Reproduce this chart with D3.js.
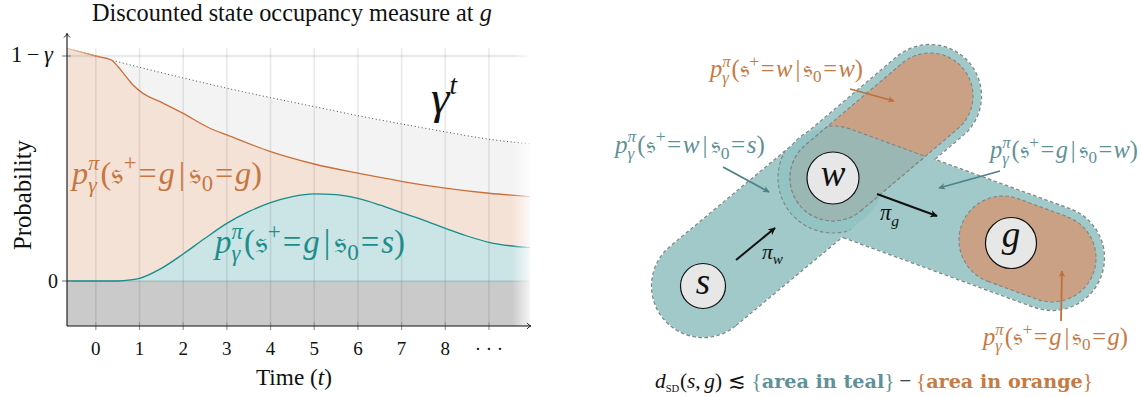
<!DOCTYPE html>
<html><head><meta charset="utf-8">
<script src="https://cdn.jsdelivr.net/npm/d3@7"></script>
<style>body{margin:0;background:#fff}svg{display:block}</style>
</head><body>
<svg id="fig" width="1141" height="397"></svg>
<script>
// ---------- left panel: occupancy curves ----------
const timeTicks = [0, 1, 2, 3, 4, 5, 6, 7, 8, 9];
const timeTickLabels = ["0", "1", "2", "3", "4", "5", "6", "7", "8", "\u00b7 \u00b7 \u00b7"];
const gammaT = [-0.66, 0, 1, 2, 3, 4, 5, 6, 7, 8, 9, 9.94];
const gammaV = [1.034, 1.0, 0.95, 0.9025, 0.857, 0.815, 0.775, 0.735, 0.698, 0.663, 0.63, 0.61];
const selfT = [-0.66, 0, 0.36, 0.51, 0.66, 0.85, 1.08, 1.47, 2, 2.6, 3, 4, 5, 6, 7, 8, 9, 9.94];
const selfV = [1.034, 1.0, 0.982, 0.952, 0.916, 0.871, 0.834, 0.797, 0.745, 0.68, 0.649, 0.575, 0.52, 0.479, 0.443, 0.413, 0.39, 0.375];
const reachT = [-0.66, 0.5, 0.8, 1, 1.5, 2, 2.5, 3, 3.5, 4, 4.5, 5, 5.5, 6, 6.5, 7, 7.5, 8, 8.5, 9, 9.94];
const reachV = [0, 0, 0.005, 0.012, 0.056, 0.12, 0.19, 0.256, 0.308, 0.348, 0.375, 0.387, 0.384, 0.367, 0.338, 0.304, 0.271, 0.234, 0.2, 0.172, 0.148];
const yTickValues = [1, 0];

// ---------- right panel: diagram layout ----------
const nodes = [
  { id: "s", x: 703, y: 286, r: 22.5, lift: 8 },
  { id: "w", x: 833, y: 178, r: 26, lift: 8 },
  { id: "g", x: 1011, y: 243, r: 25.5, lift: 4 }
];
const wTop = [930, 96];
const gEnd = [1052, 258];
const gStart = [1003, 240];

const COL = {
  orangeLine: "#c8703a", orangeFill: "#f5e2d7", orangeText: "#c8763f",
  tealLine: "#188b8b", tealFill: "#cbe4e5", tealText: "#1b8e8c",
  greyFill: "#f3f3f3", below: "#cacaca",
  dTeal: "#a2c9c9", dTealDark: "#94c3c4", dOrange: "#caa184", dGrey: "#9ab7b3",
  annTeal: "#5f9198", annTealArrow: "#4f8188", annOrange: "#c77a43", annOrangeArrow: "#c0703a"
};
const FAMILY = "'Liberation Serif', serif";
const BOLD = "'DejaVu Serif', serif";

const svg = d3.select("#fig").attr("font-family", FAMILY);
const defs = svg.append("defs");

// Lay out a run of text pieces (with sub/superscripts) and scale it to a width.
function mathText(parent, pieces, o) {
  const g = parent.append("g");
  let cx = 0;
  const put = (p, atX) => {
    const t = g.append("text")
      .attr("x", atX).attr("y", -(p.dy || 0) * o.size)
      .attr("font-size", o.size * (p.s || 1) * (p.b ? 0.9 : 1))
      .attr("font-style", p.it ? "italic" : "normal")
      .attr("font-weight", p.b ? "bold" : "normal")
      .attr("fill", p.c || o.color || "#111")
      .attr("font-family", p.f || (p.b ? BOLD : FAMILY))
      .text(p.t);
    return t.node().getComputedTextLength();
  };
  for (const p of pieces) {
    cx += (p.pl || 0) * o.size;
    if (p.stack) cx += Math.max(...p.stack.map(q => put(q, cx)));
    else cx += put(p, cx);
    cx += (p.pr || 0) * o.size;
  }
  const k = o.width ? o.width / cx : 1;
  const off = o.anchor === "middle" ? -cx * k / 2 : o.anchor === "end" ? -cx * k : 0;
  g.attr("transform", `translate(${o.x},${o.y}) rotate(${o.rotate || 0}) translate(${off},0) scale(${k})`);
  return g;
}

function occupancy(target, source) {
  return [
    { t: "p", it: true },
    { stack: [{ t: "π", s: 0.68, dy: 0.42, it: true }, { t: "γ", s: 0.68, dy: -0.25, it: true }], pr: 0.04 },
    { t: "(" },
    { t: "𝔰" },
    { t: "+", s: 0.7, dy: 0.42 },
    { t: "=", pl: 0.06, pr: 0.06 },
    { t: target, it: true },
    { t: "|", pl: 0.12, pr: 0.12 },
    { t: "𝔰" },
    { t: "0", s: 0.7, dy: -0.22 },
    { t: "=", pl: 0.06, pr: 0.06 },
    { t: source, it: true },
    { t: ")" }
  ];
}

// ================= LEFT PANEL =================
const xS = d3.scaleLinear().domain([-0.66, 9.94]).range([67, 530]);
const yS = d3.scaleLinear().domain([-0.2, 1]).range([326, 56]);
const L = svg.append("g");

const pts = (T, V) => T.map((t, i) => [t, V[i]]);
const area = d3.area().x(d => xS(d[0])).y0(yS(0)).y1(d => yS(d[1])).curve(d3.curveMonotoneX);
const line = d3.line().x(d => xS(d[0])).y(d => yS(d[1])).curve(d3.curveMonotoneX);

L.append("path").attr("d", area(pts(gammaT, gammaV))).attr("fill", COL.greyFill);
L.append("path").attr("d", area(pts(selfT, selfV))).attr("fill", COL.orangeFill);
L.append("path").attr("d", area(pts(reachT, reachV))).attr("fill", COL.tealFill);
L.append("rect").attr("x", xS(-0.66)).attr("y", yS(0)).attr("width", xS(9.94) - xS(-0.66))
  .attr("height", yS(-0.2) - yS(0)).attr("fill", COL.below);

// grid
L.selectAll("line.vg").data(timeTicks).join("line").attr("class", "vg")
  .attr("x1", d => xS(d)).attr("x2", d => xS(d)).attr("y1", yS(1.035)).attr("y2", yS(-0.2))
  .attr("stroke", "rgba(0,0,0,0.085)").attr("stroke-width", 1.6);
L.selectAll("line.hg").data(yTickValues).join("line").attr("class", "hg")
  .attr("x1", xS(-0.66)).attr("x2", xS(9.94)).attr("y1", d => yS(d)).attr("y2", d => yS(d))
  .attr("stroke", d => d === 0 ? "rgba(40,100,100,0.25)" : "rgba(0,0,0,0.08)")
  .attr("stroke-width", d => d === 0 ? 1.2 : 2.6);

// gamma^t reference
L.append("path").attr("d", line(pts(gammaT, gammaV))).attr("fill", "none")
  .attr("stroke", "#333").attr("stroke-width", 0.9).attr("stroke-dasharray", "1 2.6");

const lg = defs.append("linearGradient").attr("id", "selfFade").attr("gradientUnits", "userSpaceOnUse")
  .attr("x1", xS(-0.66)).attr("x2", xS(0.2)).attr("y1", 0).attr("y2", 0);
lg.append("stop").attr("offset", 0).attr("stop-color", "#efcdb6");
lg.append("stop").attr("offset", 1).attr("stop-color", COL.orangeLine);
L.append("path").attr("d", line(pts(selfT, selfV))).attr("fill", "none")
  .attr("stroke", "url(#selfFade)").attr("stroke-width", 1.3);
L.append("path").attr("d", line(pts(reachT, reachV))).attr("fill", "none")
  .attr("stroke", COL.tealLine).attr("stroke-width", 1.3);

// right-edge fade to white
const rf = defs.append("linearGradient").attr("id", "edgeFade");
rf.append("stop").attr("offset", 0).attr("stop-color", "#fff").attr("stop-opacity", 0);
rf.append("stop").attr("offset", 1).attr("stop-color", "#fff").attr("stop-opacity", 1);
L.append("rect").attr("x", 512).attr("y", 30).attr("width", 22).attr("height", yS(-0.2) - 30 - 0.5)
  .attr("fill", "url(#edgeFade)");

// tick marks
L.selectAll("line.xt").data(timeTicks).join("line").attr("class", "xt")
  .attr("x1", d => xS(d)).attr("x2", d => xS(d)).attr("y1", yS(-0.2) - 4).attr("y2", yS(-0.2) + 4)
  .attr("stroke", "#999").attr("stroke-width", 1.2);
L.selectAll("line.yt").data(yTickValues).join("line").attr("class", "yt")
  .attr("x1", xS(-0.66) - 5).attr("x2", xS(-0.66) + 4).attr("y1", d => yS(d)).attr("y2", d => yS(d))
  .attr("stroke", "#888").attr("stroke-width", 1.2);

// axes with arrow tips
const ax0 = xS(-0.66), ay0 = yS(-0.2);
L.append("path").attr("d", `M${ax0},${ay0}V${yS(1.1)}M${ax0},${ay0}H${xS(9.96)}`)
  .attr("stroke", "#111").attr("stroke-width", 1.1).attr("fill", "none");
L.append("path").attr("d", `M${ax0 - 3},${yS(1.1) + 4}Q${ax0 - 0.5},${yS(1.1) + 1.5} ${ax0},${yS(1.1)}Q${ax0 + 0.5},${yS(1.1) + 1.5} ${ax0 + 3},${yS(1.1) + 4}`)
  .attr("stroke", "#111").attr("stroke-width", 0.9).attr("fill", "none");
L.append("path").attr("d", `M${xS(9.96) - 4},${ay0 - 3}Q${xS(9.96) - 1.5},${ay0 - 0.5} ${xS(9.96)},${ay0}Q${xS(9.96) - 1.5},${ay0 + 0.5} ${xS(9.96) - 4},${ay0 + 3}`)
  .attr("stroke", "#111").attr("stroke-width", 0.9).attr("fill", "none");

// tick labels
L.selectAll("text.xl").data(timeTicks).join("text").attr("class", "xl")
  .attr("x", d => xS(d)).attr("y", 355).attr("text-anchor", "middle")
  .attr("font-size", 19).attr("fill", "#111").text((d, i) => timeTickLabels[i]);
mathText(L, [{ t: "1" }, { t: "−", pl: 0.2, pr: 0.2 }, { t: "γ", it: true }],
  { x: 53, y: yS(1) + 6, size: 20, width: 42, anchor: "end" });
mathText(L, [{ t: "0" }], { x: 58, y: yS(0) + 7, size: 20, anchor: "end" });

// titles
mathText(L, [{ t: "Discounted state occupancy measure at", pr: 0.25 }, { t: "g", it: true }],
  { x: 92, y: 21, size: 21, width: 400 });
mathText(L, [{ t: "Time", pr: 0.25 }, { t: "(" }, { t: "t", it: true }, { t: ")" }],
  { x: 256, y: 385, size: 21, width: 76 });
mathText(L, [{ t: "Probability" }], { x: 31, y: 195, size: 21, width: 110, anchor: "middle", rotate: -90 });

// curve labels
mathText(L, [{ t: "γ", it: true }, { t: "t", it: true, s: 0.58, dy: 0.4 }],
  { x: 431, y: 113, size: 30, width: 26 });
mathText(L, occupancy("g", "g"), { x: 72, y: 184, size: 28, width: 190, color: COL.orangeText });
mathText(L, occupancy("g", "s"), { x: 215, y: 253, size: 28, width: 190, color: COL.tealText });

// ================= RIGHT PANEL =================
const R = svg.append("g");
const N = Object.fromEntries(nodes.map(n => [n.id, n]));
const P = id => [N[id].x, N[id].y];

function capsule(p1, p2, r) {
  const dx = p2[0] - p1[0], dy = p2[1] - p1[1], len = Math.hypot(dx, dy);
  const ux = dx / len, uy = dy / len, nx = -uy, ny = ux;
  const pt = (p, a, b) => `${p[0] + a * ux * r + b * nx * r},${p[1] + a * uy * r + b * ny * r}`;
  return `M${pt(p1, 0, 1)}L${pt(p2, 0, 1)}` +
    `A${r},${r} 0 0 0 ${pt(p2, 1, 0)}A${r},${r} 0 0 0 ${pt(p2, 0, -1)}` +
    `L${pt(p1, 0, -1)}A${r},${r} 0 0 0 ${pt(p1, -1, 0)}A${r},${r} 0 0 0 ${pt(p1, 0, 1)}Z`;
}

const shapes = {
  sw: capsule(P("s"), P("w"), 51),
  wwOuter: capsule(P("w"), wTop, 51),
  wg: capsule(P("w"), gEnd, 52),
  wwOrange: capsule(P("w"), wTop, 43),
  ggOrange: capsule(gStart, gEnd, 44)
};
for (const k of ["sw", "wg", "wwOrange"]) {
  defs.append("clipPath").attr("id", "clip-" + k).append("path").attr("d", shapes[k]);
}
const dash = sel => sel.attr("fill", "none").attr("stroke", "#7d8585").attr("stroke-width", 1.1).attr("stroke-dasharray", "3.6 2.4");

// union of teal regions: outlines underneath, fills over them
for (const k of ["sw", "wwOuter", "wg"]) dash(R.append("path").attr("d", shapes[k])).attr("stroke-width", 2.3);
for (const k of ["sw", "wwOuter", "wg"]) R.append("path").attr("d", shapes[k]).attr("fill", COL.dTeal);

// ring where the band s -> w ends around w
R.append("circle").attr("cx", N.w.x).attr("cy", N.w.y).attr("r", 55)
  .attr("fill", COL.dTealDark).attr("clip-path", "url(#clip-sw)");
dash(R.append("circle").attr("cx", N.w.x).attr("cy", N.w.y).attr("r", 55)).attr("clip-path", "url(#clip-sw)");

// self-occupancy regions
for (const k of ["wwOrange", "ggOrange"]) {
  R.append("path").attr("d", shapes[k]).attr("fill", COL.dOrange);
  dash(R.append("path").attr("d", shapes[k]));
}
// band w -> g over the self-occupancy of w
R.append("path").attr("d", shapes.wg).attr("fill", COL.dGrey).attr("clip-path", "url(#clip-wwOrange)");
dash(R.append("path").attr("d", shapes.wg)).attr("clip-path", "url(#clip-wwOrange)");
dash(R.append("path").attr("d", shapes.wwOrange)).attr("clip-path", "url(#clip-wg)");

// arrow heads
function marker(id, color) {
  defs.append("marker").attr("id", id).attr("viewBox", "0 0 10 10").attr("refX", 8).attr("refY", 5)
    .attr("markerWidth", 4.2).attr("markerHeight", 4.2).attr("orient", "auto-start-reverse")
    .attr("markerUnits", "strokeWidth")
    .append("path").attr("d", "M0,0.6 L9,5 L0,9.4 L2.4,5 Z").attr("fill", color);
}
marker("mk-black", "#111");
marker("mk-teal", COL.annTealArrow);
marker("mk-orange", COL.annOrangeArrow);
const arrow = (a, b, color, mk, w) => R.append("line")
  .attr("x1", a[0]).attr("y1", a[1]).attr("x2", b[0]).attr("y2", b[1])
  .attr("stroke", color).attr("stroke-width", w).attr("marker-end", `url(#${mk})`);

// policy arrows
arrow([736, 260], [775, 228], "#111", "mk-black", 2);
arrow([877, 194], [937, 216], "#111", "mk-black", 2);
mathText(R, [{ t: "π", it: true }, { t: "w", it: true, s: 0.7, dy: -0.25 }], { x: 762, y: 259, size: 19, width: 21 });
mathText(R, [{ t: "π", it: true }, { t: "g", it: true, s: 0.7, dy: -0.25 }], { x: 880, y: 220, size: 19, width: 19 });

// states
const ng = R.selectAll("g.node").data(nodes).join("g").attr("class", "node");
ng.append("circle").attr("cx", d => d.x).attr("cy", d => d.y).attr("r", d => d.r)
  .attr("fill", "#e7e7e7").attr("stroke", "#111").attr("stroke-width", 1.2);
nodes.forEach(d => mathText(R, [{ t: d.id, it: true }],
  { x: d.x, y: d.y + d.lift, size: 37, anchor: "middle" }));

// annotations
arrow([850, 89], [894, 101], COL.annOrangeArrow, "mk-orange", 1.8);
arrow([723, 167], [769, 192], COL.annTealArrow, "mk-teal", 1.8);
arrow([1000, 171], [939, 188], COL.annTealArrow, "mk-teal", 1.8);
arrow([1061, 321], [1062, 271], COL.annOrangeArrow, "mk-orange", 1.8);
mathText(R, occupancy("w", "w"), { x: 710, y: 77, size: 20, width: 153, color: COL.annOrange });
mathText(R, occupancy("w", "s"), { x: 615, y: 153, size: 20, width: 150, color: COL.annTeal });
mathText(R, occupancy("g", "w"), { x: 990, y: 158, size: 20, width: 148, color: COL.annTeal });
mathText(R, occupancy("g", "g"), { x: 983, y: 345, size: 20, width: 145, color: COL.annOrange });

// bound on the shortest-path distance
mathText(R, [
  { t: "d", it: true }, { t: "SD", s: 0.5, dy: -0.2, pr: 0.03 }, { t: "(" }, { t: "s", it: true },
  { t: ",", pr: 0.17 }, { t: "g", it: true }, { t: ")", pr: 0.28 }, { t: "≲", pr: 0.28 },
  { t: "{", c: COL.annTeal }, { t: "area in teal", b: true, c: COL.annTeal }, { t: "}", c: COL.annTeal, pr: 0.22 },
  { t: "−", pr: 0.22 },
  { t: "{", c: COL.annOrange }, { t: "area in orange", b: true, c: COL.annOrange }, { t: "}", c: COL.annOrange }
], { x: 655, y: 388, size: 22, width: 438 });
</script>
</body></html>
